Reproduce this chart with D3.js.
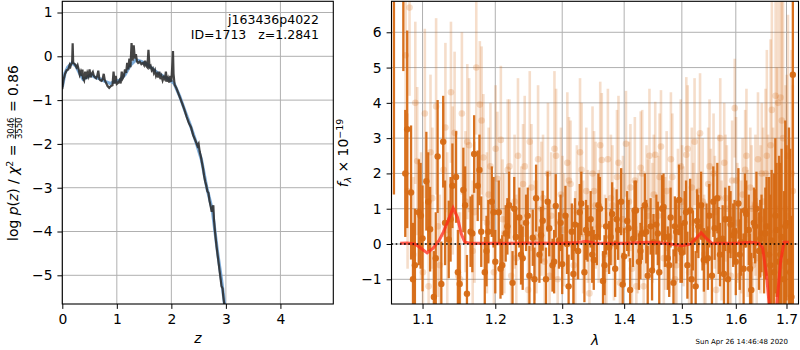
<!DOCTYPE html>
<html>
<head>
<meta charset="utf-8">
<script src="https://cdn.jsdelivr.net/npm/d3@7"></script>
<style>
  body { margin: 0; background: #fff; }
  svg { display: block; font-family: "DejaVu Sans", sans-serif; }
</style>
</head>
<body>
<svg id="fig" width="800" height="350"></svg>
<script>
'use strict';

// ---- left panel: log p(z) ----
var chi2Z = [0.00,0.02,0.05,0.08,0.11,0.13,0.14,0.16,0.18,0.19,0.20,0.23,0.26,0.28,0.30,0.32,0.34,0.36,0.37,0.38,
  0.40,0.42,0.44,0.46,0.48,0.50,0.52,0.54,0.56,0.58,0.60,0.62,0.64,0.66,0.68,0.70,0.72,0.74,0.76,0.78,
  0.80,0.83,0.86,0.89,0.92,0.94,0.96,0.98,1.00,1.03,1.05,1.07,1.09,1.11,1.13,1.15,1.17,1.19,1.21,1.23,
  1.25,1.27,1.29,1.31,1.33,1.35,1.37,1.39,1.42,1.45,1.48,1.50,1.52,1.54,1.56,1.58,1.60,1.62,1.64,1.66,
  1.68,1.70,1.72,1.74,1.76,1.78,1.80,1.82,1.84,1.86,1.88,1.90,1.92,1.94,1.96,1.98,2.00,2.02,2.03,2.04,
  2.06,2.09,2.12,2.16,2.20,2.24,2.28,2.32,2.36,2.40,2.44,2.48,2.50,2.52,2.54,2.56,2.58,2.60,2.62,2.64,
  2.66,2.68,2.70,2.72,2.74,2.76,2.77,2.78,2.80,2.83,2.86,2.89,2.92,2.94,2.95,2.98];
var chi2LogP = [-0.75,-0.55,-0.40,-0.32,-0.30,-0.22,-0.28,-0.18,-0.15,0.30,-0.15,-0.18,-0.25,-0.20,-0.30,-0.42,-0.35,-0.45,-0.30,-0.50,
  -0.55,-0.35,-0.52,-0.38,-0.45,-0.30,-0.48,-0.40,-0.36,-0.45,-0.48,-0.50,-0.45,-0.33,-0.52,-0.55,-0.56,-0.52,-0.40,-0.55,
  -0.60,-0.68,-0.72,-0.68,-0.66,-0.35,-0.62,-0.45,-0.63,-0.60,-0.55,-0.62,-0.35,-0.50,-0.45,-0.30,-0.38,-0.15,-0.30,-0.05,
  -0.25,0.30,-0.10,0.25,-0.05,0.05,-0.12,-0.15,-0.12,-0.18,-0.15,-0.20,-0.10,-0.22,-0.25,0.15,-0.25,-0.22,-0.32,-0.28,
  -0.38,-0.32,-0.45,-0.40,-0.48,-0.35,-0.52,-0.45,-0.55,-0.48,-0.52,-0.35,-0.58,-0.50,-0.60,-0.45,-0.58,-0.15,0.12,-0.40,
  -0.65,-0.72,-0.82,-0.95,-1.08,-1.22,-1.38,-1.52,-1.62,-1.80,-1.92,-2.05,-2.00,-2.18,-2.28,-2.42,-2.55,-2.72,-2.85,-2.95,
  -3.08,-3.12,-3.30,-3.42,-3.55,-3.45,-3.40,-3.70,-4.00,-4.35,-4.65,-4.95,-5.25,-5.30,-5.45,-5.75];

var pzZ = [0.00,0.05,0.10,0.18,0.25,0.32,0.38,0.45,0.52,0.60,0.70,0.80,0.88,0.95,1.05,1.15,1.25,1.35,1.45,1.55,
  1.65,1.75,1.85,1.95,2.05,2.15,2.25,2.35,2.45,2.55,2.65,2.75,2.85,2.92,2.98];
var pzLogP = [-0.70,-0.38,-0.25,-0.15,-0.22,-0.40,-0.52,-0.48,-0.42,-0.48,-0.52,-0.58,-0.62,-0.58,-0.55,-0.42,-0.20,-0.08,-0.12,-0.18,
  -0.28,-0.38,-0.45,-0.52,-0.62,-0.90,-1.25,-1.58,-1.95,-2.35,-3.00,-3.50,-4.50,-5.10,-5.70];

var zTicks = [0, 1, 2, 3, 4];
var logpTicks = [1, 0, -1, -2, -3, -4, -5];

// ---- right panel: spectrum ----
var darkWave = [1.063,
  1.075,1.080,1.085,1.090,1.095,1.100,1.105,1.110,1.115,1.120,1.125,1.130,1.135,1.140,1.145,1.150,1.155,1.160,1.165,1.170,1.175,1.180,1.185,1.190,1.195,1.200,
  1.205,1.210,1.215,1.220,1.225,1.230,1.235,1.240,1.245,1.250,1.255,1.260,1.265,1.270,1.275,1.280,1.285,1.290,1.295,1.300,
  1.305,1.310,1.315,1.320,1.325,1.330,1.335,1.340,1.345,1.350,1.355,1.360,1.365,1.370,1.375,1.380,1.385,1.390,1.395,1.400,
  1.405,1.410,1.415,1.420,1.425,1.430,1.435,1.440,1.445,1.450,
  1.455,1.460,1.465,1.470,1.475,1.480,1.485,1.490,1.495,1.500,1.505,1.510,1.515,1.520,1.525,1.530,1.535,1.540,1.545,1.550,
  1.555,1.560,1.565,1.570,1.575,1.580,1.585,1.590,1.595,1.600,1.605,1.610,1.615,1.620,1.625,1.630,1.635,1.640,1.645,1.650,
  1.655,1.660,1.665,1.670,1.675,1.680,1.685,1.690,1.695,1.700,1.705,1.710,1.713];
var darkFlux = [8.0,
  7.6,3.25,1.46,-0.6,0.9,0.16,1.78,0.42,-1.5,2.48,-1.13,0.6,0.13,1.65,1.9,-1.13,1.53,-1.41,0.35,2.55,1.65,0.35,-0.8,0.35,1.2,-0.5,
  0.9,-0.6,0.3,1.1,-1.1,0.2,0.75,-0.4,0.6,-0.9,0.18,1.3,-0.3,0.66,-1.0,0.45,-0.6,1.08,0.1,-0.57,
  0.8,-1.2,0.35,0.55,-0.2,1.15,-0.8,0.3,0.7,-0.45,0.2,1.0,-1.05,0.5,-0.1,0.85,-0.7,0.4,1.2,-0.35,
  0.65,-1.3,0.15,0.95,-0.5,0.3,1.1,-0.9,0.5,0.05,
  0.55,-0.8,1.0,0.2,-0.4,0.75,-1.1,0.35,1.25,-0.25,0.6,-0.6,0.95,0.1,-1.2,0.5,1.1,-0.45,0.3,0.8,
  -0.9,0.45,1.3,-0.3,0.15,0.7,-1.0,0.55,0.25,-0.5,1.15,0.05,-0.7,0.85,0.4,-1.3,0.6,1.0,-0.2,0.3,
  -0.2,0.5,-0.3,0.1,-0.8,0.4,-0.5,0.2,-1.0,0.6,-0.5,-1.5,4.8];
var darkErr = [6.6,
  2.7,2.8,1.9,1.6,1.5,1.5,1.4,1.2,1.3,1.6,1.2,1.2,1.1,1.2,1.3,1.1,1.2,1.1,1.0,1.1,1.0,1.0,1.0,0.9,1.0,0.9,
  0.9,0.85,0.8,0.95,0.9,0.8,0.85,0.9,0.8,0.85,0.8,0.95,0.8,0.85,0.9,0.8,0.75,0.9,0.8,0.85,
  0.85,0.9,0.8,0.75,0.8,0.9,0.85,0.8,0.8,0.85,0.8,0.9,0.85,0.8,0.75,0.9,0.8,0.85,0.95,0.8,
  0.85,0.9,0.8,0.85,0.8,0.75,0.9,0.85,0.8,0.8,
  0.85,0.9,0.95,0.85,0.9,0.85,0.95,0.9,1.0,0.85,0.9,0.95,0.9,0.85,1.0,0.9,0.95,0.9,0.85,0.9,
  0.95,0.9,1.0,0.9,0.95,0.9,1.0,0.95,0.9,0.95,1.0,0.95,1.0,0.95,1.0,1.05,1.0,1.05,1.1,1.1,
  1.2,1.4,2.2,2.0,2.8,1.9,3.0,2.5,2.5,2.2,3.8,2.3,7.0];

// second, interleaved set of good pixels
var dark2Wave = [1.0775,1.0875,1.0975,1.1075,1.1175,1.1275,1.1375,1.1475,1.1575,1.1675,1.1775,1.1875,1.1975,
  1.2075,1.2175,1.2275,1.2375,1.2475,1.2575,1.2675,1.2775,1.2875,1.2975,1.3075,1.3175,1.3275,1.3375,1.3475,
  1.3575,1.3675,1.3775,1.3875,1.3975,1.4075,1.4175,1.4275,1.4375,1.4475,
  1.4575,1.4675,1.4775,1.4875,1.4975,1.5075,1.5175,1.5275,1.5375,1.5475,1.5575,1.5675,1.5775,1.5875,1.5975,
  1.6075,1.6175,1.6275,1.6375,1.6475,
  1.6575,1.6675,1.6775,1.6875,1.6975,1.7075];
var dark2Flux = [2.0,-1.0,0.8,1.2,-0.4,2.9,0.7,-0.8,1.1,0.3,2.1,-0.2,0.9,
  -0.7,0.5,1.0,-0.3,0.8,-1.0,0.25,1.2,-0.5,0.6,0.0,-0.85,0.9,0.4,-0.3,1.1,-0.6,0.2,0.7,-1.15,0.45,0.95,-0.2,0.35,-0.75,
  0.3,1.05,-0.6,0.5,-0.15,0.9,-1.0,0.65,0.2,-0.4,1.2,0.1,-0.85,0.7,0.35,-0.3,0.95,-0.7,0.5,0.15,
  0.3,-0.6,0.8,-0.3,0.5,-0.8];
var dark2Err = [1.8,1.6,1.5,1.4,1.3,1.3,1.2,1.2,1.1,1.1,1.0,1.0,1.0,
  0.85,0.8,0.9,0.85,0.8,0.9,0.8,0.85,0.9,0.8,0.85,0.9,0.8,0.85,0.8,0.9,0.85,0.8,0.85,0.9,0.8,0.85,0.8,0.9,0.85,
  0.9,0.95,0.9,0.85,0.95,0.9,1.0,0.9,0.95,0.9,1.0,0.95,1.0,0.95,0.9,1.0,1.05,1.0,1.05,1.1,
  1.3,2.0,2.2,2.6,3.0,3.5];

var lightWave = [
  1.078,1.083,1.088,1.093,1.098,1.103,1.108,1.113,1.118,1.123,1.128,1.133,1.138,1.143,1.148,1.153,1.158,1.163,1.168,1.173,1.178,1.183,1.188,1.193,1.198,
  1.203,1.208,1.213,1.218,1.223,1.228,1.233,1.238,1.243,1.248,1.253,1.258,1.263,1.268,1.273,1.278,1.283,1.288,1.293,1.298,
  1.303,1.308,1.313,1.318,1.323,1.328,1.333,1.338,1.343,1.348,1.353,1.358,1.363,1.368,1.373,1.378,1.383,1.388,1.393,1.398,
  1.403,1.408,1.413,1.418,1.423,1.428,1.433,1.438,1.443,1.448,
  1.453,1.458,1.463,1.468,1.473,1.478,1.483,1.488,1.493,1.498,1.503,1.508,1.513,1.518,1.523,1.528,1.533,1.538,1.543,1.548,
  1.553,1.558,1.563,1.568,1.573,1.578,1.583,1.588,1.593,1.598,1.603,1.608,1.613,1.618,1.623,1.628,1.633,1.638,1.643,1.648,
  1.653,1.658,1.663,1.668,1.673,1.678,1.683,1.688,1.693,1.698,1.703,1.708,1.713];
var lightFlux = [
  5.35,6.7,-0.3,2.35,0.8,3.7,-1.2,1.3,3.9,-0.6,2.1,0.4,4.3,3.15,-0.9,3.7,1.2,2.8,-0.2,5.0,3.95,2.45,0.6,2.2,-0.8,
  1.85,2.95,0.3,2.1,-0.9,1.2,2.5,0.6,2.2,-1.3,1.6,0.1,2.4,1.0,-0.5,2.0,0.8,2.7,-1.0,1.4,
  0.4,2.3,1.7,-0.6,0.9,2.6,0.2,1.5,-1.4,2.0,1.1,0.5,2.38,-0.3,2.4,1.3,0.0,1.9,-1.1,0.7,
  2.84,1.2,-0.7,1.8,0.3,2.16,-1.2,1.0,2.5,0.6,
  2.53,0.8,2.76,-0.4,1.5,0.2,1.9,-1.0,1.1,2.2,0.5,2.53,-0.8,1.6,2.9,0.4,3.14,1.2,-0.5,1.7,
  0.9,2.0,-1.3,1.3,0.1,2.3,1.0,-0.2,1.8,3.85,0.6,-0.9,1.4,2.1,0.3,1.6,-0.6,1.1,2.4,0.7,
  1.2,2.0,0.5,2.8,0.3,4.2,4.0,4.15,3.0,1.0,2.5,-0.5,1.5];
var lightErr = [
  2.0,2.5,2.2,2.1,1.8,2.4,1.9,2.0,2.5,2.0,1.9,2.2,2.0,2.3,1.8,2.3,2.0,1.9,2.0,1.9,1.8,1.8,2.0,1.8,1.9,
  1.9,2.1,1.7,2.0,1.8,1.9,2.2,1.6,2.0,1.7,1.8,1.7,2.1,1.9,1.6,2.0,1.8,2.2,1.7,1.9,
  1.6,2.0,1.8,1.7,1.9,2.1,1.6,1.8,1.7,1.9,1.8,1.6,1.9,1.7,2.0,1.8,1.6,1.9,1.7,1.8,
  1.5,1.7,1.6,1.8,1.7,1.6,1.7,1.8,1.9,1.7,
  1.5,1.7,1.6,1.8,1.7,1.6,1.8,1.7,1.6,1.9,1.7,2.2,1.8,1.7,1.8,1.6,1.7,1.8,1.7,1.6,
  1.8,1.7,1.6,1.8,1.7,1.7,1.8,1.6,1.7,1.4,1.7,1.8,1.6,1.7,1.8,1.7,1.8,2.0,1.9,2.1,
  2.1,2.4,2.6,3.0,3.0,4.0,4.2,4.5,4.0,3.5,4.0,3.5,3.0];

var light2Wave = [1.0805,1.0905,1.1005,1.1105,1.1205,1.1305,1.1405,1.1505,1.1605,1.1705,1.1805,1.1905,1.2005,
  1.2105,1.2205,1.2305,1.2405,1.2505,1.2605,1.2705,1.2805,1.2905,1.3005,1.3105,1.3205,1.3305,1.3405,1.3505,
  1.3605,1.3705,1.3805,1.3905,1.4005,1.4105,1.4205,1.4305,1.4405,1.4505,
  1.4605,1.4705,1.4805,1.4905,1.5005,1.5105,1.5205,1.5305,1.5405,1.5505,1.5605,1.5705,1.5805,1.5905,1.6005,
  1.6105,1.6205,1.6305,1.6405,1.6505,
  1.6605,1.6705,1.6805,1.6905,1.7005,1.7105];
var light2Flux = [1.5,4.0,-0.8,2.6,0.5,3.3,1.8,-1.0,2.9,0.9,3.5,1.4,2.7,
  0.7,2.2,-0.4,1.7,2.9,0.2,1.3,-0.9,2.5,0.9,1.8,-0.2,2.1,0.5,1.5,2.8,-0.7,1.1,2.3,0.4,1.6,-1.2,2.0,0.8,1.4,
  1.9,0.3,2.4,-0.6,1.2,2.7,0.6,1.5,-0.3,2.2,0.9,3.0,1.3,-0.9,1.8,0.2,2.5,1.0,-0.4,2.0,
  2.5,3.8,1.0,3.5,0.8,2.0];
var light2Err = [2.2,2.3,2.0,2.2,2.0,2.4,2.1,1.9,2.2,2.0,2.1,1.9,1.8,
  1.7,1.9,1.8,1.7,2.0,1.6,1.8,1.7,1.9,1.6,1.8,1.7,1.9,1.6,1.7,1.8,1.6,1.7,1.9,1.6,1.8,1.7,1.8,1.6,1.7,
  1.8,1.6,1.9,1.7,1.6,1.8,1.7,1.6,1.7,1.9,1.6,1.7,1.8,1.7,1.8,1.6,1.9,1.8,1.7,2.0,
  3.0,3.5,4.0,4.2,4.0,3.5];

var modelWave = [1.071,1.080,1.090,1.098,1.106,1.114,1.122,1.128,1.134,1.141,1.147,1.152,1.157,1.165,1.200,1.250,1.300,1.325,1.337,1.350,
  1.400,1.440,1.470,1.500,1.515,1.525,1.535,1.545,1.555,1.600,1.630,1.645,1.652,1.660,1.667,1.673,1.680,1.688,1.695,1.705];
var modelFlux = [0.02,0.03,0.0,-0.12,-0.25,-0.12,0.1,0.35,0.65,1.02,0.75,0.3,0.05,0.02,0.02,0.03,0.02,0.04,0.08,0.03,
  0.02,0.05,0.02,-0.05,0.0,0.15,0.32,0.15,0.02,0.02,0.05,0.02,-0.1,-0.9,-2.0,-2.4,-1.8,-0.5,0.05,0.05];

var waveTicks = [1.1, 1.2, 1.3, 1.4, 1.5, 1.6, 1.7];
var fluxTicks = [-1, 0, 1, 2, 3, 4, 5, 6];

var objName = 'j163436p4022';
var objInfo = 'ID=1713   z=1.2841';
var stamp = 'Sun Apr 26 14:46:48 2020';

// ---------------------------------------------------------------
var svg = d3.select('#fig');
var FS = '13.9px';
var GRID = '#b0b0b0';
var ORANGE = '#d66a14';
var minus = function (d) { return String(d).replace('-', '\u2212'); };

var L = {x0: 62.3, x1: 333.3, y0: 1.3, y1: 304};
var R = {x0: 391.5, x1: 798.5, y0: 1.3, y1: 304};

var xz = d3.scaleLinear().domain([0, 4.97]).range([L.x0, L.x1]);
var yp = d3.scaleLinear().domain([-5.655, 1.256]).range([L.y1, L.y0]);
var xw = d3.scaleLog().domain([1.0599, 1.7246]).range([R.x0, R.x1]);
var yf = d3.scaleLinear().domain([-1.70, 6.878]).range([R.y1, R.y0]);

function clip(id, b) {
  svg.append('clipPath').attr('id', id).append('rect')
    .attr('x', b.x0).attr('y', b.y0).attr('width', b.x1 - b.x0).attr('height', b.y1 - b.y0);
}
clip('clipL', L);
clip('clipR', R);

function panelAxes(b, xs, ys, xt, yt, xfmt) {
  // grid
  var g = svg.append('g');
  g.selectAll('line.gx').data(xt).join('line')
    .attr('x1', function (d) { return xs(d); }).attr('x2', function (d) { return xs(d); })
    .attr('y1', b.y0).attr('y2', b.y1)
    .style('stroke', GRID).style('stroke-width', 1);
  g.selectAll('line.gy').data(yt).join('line')
    .attr('y1', function (d) { return ys(d); }).attr('y2', function (d) { return ys(d); })
    .attr('x1', b.x0).attr('x2', b.x1)
    .style('stroke', GRID).style('stroke-width', 1);

  var ax = svg.append('g').attr('transform', 'translate(0,' + b.y1 + ')')
    .call(d3.axisBottom(xs).tickValues(xt).tickFormat(xfmt).tickSize(4.9).tickPadding(4.9).tickSizeOuter(0));
  var ay = svg.append('g').attr('transform', 'translate(' + b.x0 + ',0)')
    .call(d3.axisLeft(ys).tickValues(yt).tickFormat(minus).tickSize(4.9).tickPadding(4.9).tickSizeOuter(0));
  [ax, ay].forEach(function (a) {
    a.select('.domain').remove();
    a.selectAll('text').style('font-size', FS).style('font-family', '"DejaVu Sans", sans-serif').attr('fill', '#000');
    a.selectAll('line').style('stroke', '#000').style('stroke-width', 1);
  });
}

function frame(b) {
  svg.append('rect').attr('x', b.x0).attr('y', b.y0)
    .attr('width', b.x1 - b.x0).attr('height', b.y1 - b.y0)
    .style('fill', 'none').style('stroke', '#000').style('stroke-width', 1.1);
}

// ---- left panel ----
panelAxes(L, xz, yp, zTicks, logpTicks, function (d) { return d; });

var gl = svg.append('g').attr('clip-path', 'url(#clipL)');
gl.append('path')
  .datum(d3.range(pzZ.length))
  .attr('d', d3.line().x(function (i) { return xz(pzZ[i]); }).y(function (i) { return yp(pzLogP[i]); }))
  .style('fill', 'none').style('stroke', '#6fa3d6').style('stroke-width', 3.2).style('opacity', 0.9);
gl.append('path')
  .datum(d3.range(chi2Z.length))
  .attr('d', d3.line().x(function (i) { return xz(chi2Z[i]); }).y(function (i) { return yp(chi2LogP[i]); }))
  .style('fill', 'none').style('stroke', '#2b2b2b').style('stroke-width', 2.2).style('opacity', 0.88);
frame(L);

svg.append('text').attr('x', 319).attr('y', 24).attr('text-anchor', 'end')
  .style('font-size', '12.5px').text(objName);
svg.append('text').attr('x', 319).attr('y', 38.5).attr('text-anchor', 'end')
  .style('font-size', '12.5px').style('white-space', 'pre').attr('xml:space', 'preserve').text(objInfo);

svg.append('text').attr('x', (L.x0 + L.x1) / 2).attr('y', 343).attr('text-anchor', 'middle')
  .style('font-size', FS).style('font-style', 'italic').text('z');

// y label with a stacked fraction, laid out piece by piece
(function () {
  var outer = svg.append('g').attr('transform', 'translate(18,153) rotate(-90)');
  var g = outer.append('g');
  var cx = 0;
  function piece(str, opt) {
    opt = opt || {};
    var t = g.append('text').attr('x', cx).attr('y', opt.dy || 0)
      .style('font-size', opt.size || FS).style('white-space', 'pre').attr('xml:space', 'preserve')
      .style('font-style', opt.italic ? 'italic' : null).text(str);
    cx += t.node().getComputedTextLength();
    return t;
  }
  piece('log ');
  piece('p', {italic: true});
  piece('(');
  piece('z', {italic: true});
  piece(') / ');
  piece('\u03c7', {italic: true});
  piece('2', {size: '9.5px', dy: -5.5});
  piece(' = ');
  var num = g.append('text').attr('y', -3.8).style('font-size', '8.5px').attr('text-anchor', 'middle').text('3046');
  var den = g.append('text').attr('y', 4.4).style('font-size', '8.5px').attr('text-anchor', 'middle').text('3550');
  var w = Math.max(num.node().getComputedTextLength(), den.node().getComputedTextLength());
  num.attr('x', cx + 1 + w / 2);
  den.attr('x', cx + 1 + w / 2);
  g.append('line').attr('x1', cx + 1).attr('x2', cx + 1 + w).attr('y1', -2.6).attr('y2', -2.6)
    .style('stroke', '#000').style('stroke-width', 0.7);
  cx += w + 2;
  piece(' = 0.86');
  g.attr('transform', 'translate(' + (-cx / 2) + ',0)');
})();

// ---- right panel ----
panelAxes(R, xw, yf, waveTicks, fluxTicks, d3.format('.1f'));

var gr = svg.append('g').attr('clip-path', 'url(#clipR)');

function errPoints(g, wave, flux, err, opacity, bw, r) {
  var idx = d3.range(wave.length);
  var s = g.append('g');
  s.selectAll('line').data(idx).join('line')
    .attr('x1', function (i) { return xw(wave[i]); }).attr('x2', function (i) { return xw(wave[i]); })
    .attr('y1', function (i) { return yf(flux[i] - err[i]); })
    .attr('y2', function (i) { return yf(flux[i] + err[i]); })
    .style('stroke', ORANGE).style('stroke-width', bw).style('opacity', opacity);
  s.selectAll('circle').data(idx).join('circle')
    .attr('cx', function (i) { return xw(wave[i]); })
    .attr('cy', function (i) { return yf(flux[i]); })
    .attr('r', r)
    .style('fill', ORANGE).style('opacity', opacity);
}

errPoints(gr, lightWave, lightFlux, lightErr, 0.22, 2.6, 3.3);
errPoints(gr, light2Wave, light2Flux, light2Err, 0.22, 2.6, 3.3);
errPoints(gr, darkWave, darkFlux, darkErr, 0.95, 2.3, 3.2);
errPoints(gr, dark2Wave, dark2Flux, dark2Err, 0.95, 2.3, 3.2);

gr.append('path')
  .datum(d3.range(modelWave.length))
  .attr('d', d3.line().x(function (i) { return xw(modelWave[i]); }).y(function (i) { return yf(modelFlux[i]); }))
  .style('fill', 'none').style('stroke', '#ff2a1a').style('stroke-width', 3).style('opacity', 0.75);

gr.append('line')
  .attr('x1', R.x0).attr('x2', R.x1).attr('y1', yf(0)).attr('y2', yf(0))
  .style('stroke', '#000').style('stroke-width', 1.6).style('stroke-dasharray', '1.6,2.6');
frame(R);

svg.append('text').attr('x', (R.x0 + R.x1) / 2).attr('y', 345).attr('text-anchor', 'middle')
  .style('font-size', FS).style('font-style', 'italic').text('\u03bb');

(function () {
  var outer = svg.append('g').attr('transform', 'translate(348,153) rotate(-90)');
  var g = outer.append('g');
  var cx = 0;
  function piece(str, opt) {
    opt = opt || {};
    var t = g.append('text').attr('x', cx).attr('y', opt.dy || 0)
      .style('font-size', opt.size || FS).style('white-space', 'pre').attr('xml:space', 'preserve')
      .style('font-style', opt.italic ? 'italic' : null).text(str);
    cx += t.node().getComputedTextLength();
    return t;
  }
  piece('f', {italic: true});
  piece('\u03bb', {italic: true, size: '9.5px', dy: 3});
  piece(' \u00d7 10');
  piece('\u221219', {size: '9.5px', dy: -5.5});
  g.attr('transform', 'translate(' + (-cx / 2) + ',0)');
})();

svg.append('text').attr('x', 788).attr('y', 344).attr('text-anchor', 'end')
  .style('font-size', '7px').text(stamp);
</script>
</body>
</html>
